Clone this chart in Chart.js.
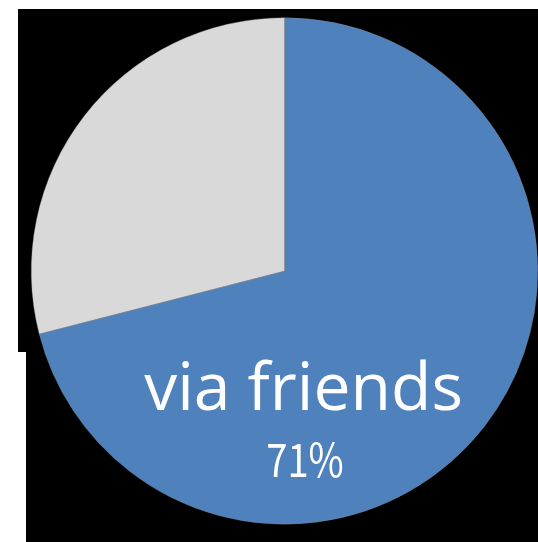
<!DOCTYPE html>
<html>
<head>
<meta charset="utf-8">
<script src="https://cdn.jsdelivr.net/npm/chart.js@4/dist/chart.umd.min.js"></script>
<style>
html,body{margin:0;padding:0;background:#fff;}
#c{display:block;}
</style>
</head>
<body>
<canvas id="c" width="538" height="542" style="width:538px;height:542px"></canvas>
<script>
const categories = ['via friends', 'other'];
const values = [71, 29];
const colors = ['#4F81BD', '#D9D9D9'];
const labelText = 'via friends';
const percentText = '71%';

const bgPlugin = {
  id: 'bg',
  beforeDraw(chart) {
    const ctx = chart.ctx;
    ctx.save();
    ctx.fillStyle = '#fff';
    ctx.fillRect(0, 0, chart.width, chart.height);
    ctx.fillStyle = '#000';
    ctx.fillRect(18, 9, chart.width - 18, 343);
    ctx.fillRect(26, 352, chart.width - 26, chart.height - 352);
    ctx.restore();
  }
};

const textPlugin = {
  id: 'txt',
  afterDatasetsDraw(chart) {
    const meta = chart.getDatasetMeta(0);
    const arc = meta.data[0];
    const cx = arc.x, cy = arc.y;
    const ctx = chart.ctx;
    ctx.save();
    ctx.fillStyle = '#fff';
    ctx.textAlign = 'center';
    ctx.textBaseline = 'alphabetic';
    ctx.font = '66px "Open Sans", "Noto Sans", sans-serif';
    ctx.fillText(labelText, cx + 19, cy + 139);
    ctx.translate(cx + 20.5, cy + 206);
    ctx.scale(0.83, 1);
    ctx.font = '46px "Noto Sans CJK JP", "Noto Sans", sans-serif';
    ctx.fillText(percentText, 0, 0);
    ctx.restore();
  }
};

new Chart(document.getElementById('c'), {
  type: 'pie',
  data: {
    labels: categories,
    datasets: [{
      data: values,
      backgroundColor: colors,
      borderColor: 'rgba(140,140,140,0.7)',
      borderWidth: 0.5
    }]
  },
  options: {
    responsive: false,
    animation: false,
    events: [],
    layout: { padding: { left: 31, right: 0, top: 17, bottom: 17 } },
    plugins: { legend: { display: false }, tooltip: { enabled: false } }
  },
  plugins: [bgPlugin, textPlugin]
});
</script>
</body>
</html>
